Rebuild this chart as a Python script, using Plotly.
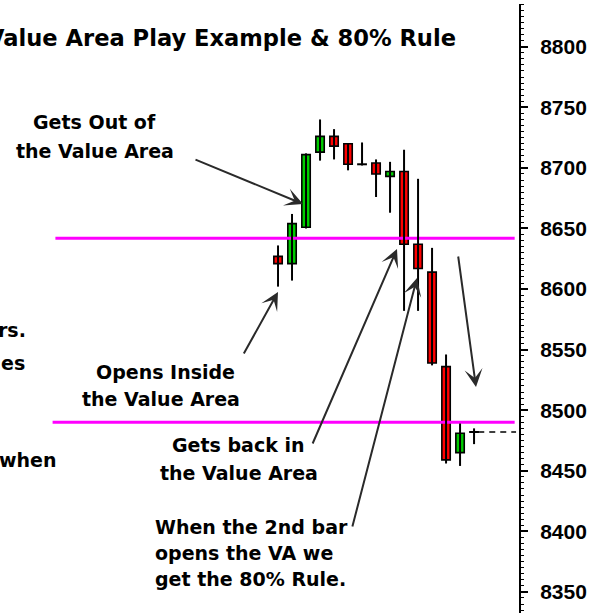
import plotly.graph_objects as go

# ---- data ----
bar_index = list(range(15))
opens  = [8627, 8621, 8651, 8713, 8726, 8720, 8703, 8704, 8693, 8697, 8637, 8614, 8536, 8465, 8482]
highs  = [8636, 8662, 8712, 8740, 8732, 8720, 8721, 8707, 8705, 8715, 8691, 8634, 8546, 8489, 8485]
lows   = [8602, 8607, 8650, 8706, 8707, 8698, 8702, 8676, 8663, 8582, 8582, 8537, 8456, 8454, 8472]
closes = [8621, 8654, 8711, 8726, 8718, 8703, 8703, 8695, 8697, 8637, 8617, 8539, 8459, 8481, 8482]

value_area_high = 8642
value_area_low = 8490
vah_span = [-15.9, 16.9]
val_span = [-16.1, 16.9]

y_tick_vals = [8350, 8400, 8450, 8500, 8550, 8600, 8650, 8700, 8750, 8800]
y_tick_text = [str(v) for v in y_tick_vals]

# ---- geometry ----
W, H = 597, 613
ML, MR, MT, MB = 0, 78, 4, 0
PW, PH = W - ML - MR, H - MT - MB
X_RANGE = [-19.857, 17.21]
Y_RANGE = [8332.6, 8835.3]

def px(x):
    return (x - ML) / PW

def py(y):
    return 1 - (y - MT) / PH

GREEN = "#00CC00"
RED = "#FF0000"
MAGENTA = "#FF00FF"
ARROW = "#2a2a2a"
FONT = dict(family="DejaVu Sans", size=19, color="black", weight="bold")

fig = go.Figure()

# value area lines
fig.add_trace(go.Scatter(x=vah_span, y=[value_area_high] * 2, mode="lines",
                         line=dict(color=MAGENTA, width=3), hoverinfo="skip"))
fig.add_trace(go.Scatter(x=val_span, y=[value_area_low] * 2, mode="lines",
                         line=dict(color=MAGENTA, width=3), hoverinfo="skip"))

# last price dashed line
fig.add_trace(go.Scatter(x=[bar_index[-1] + 0.3, 17.0], y=[closes[-1]] * 2, mode="lines",
                         line=dict(color="black", width=1.6, dash="6px,5px"), hoverinfo="skip"))

# wicks
wx, wy = [], []
for i, hi, lo in zip(bar_index, highs, lows):
    wx += [i, i, None]
    wy += [lo, hi, None]
fig.add_trace(go.Scatter(x=wx, y=wy, mode="lines", line=dict(color="black", width=2),
                         hoverinfo="skip"))

# bodies
body_idx, body_base, body_len, body_col = [], [], [], []
dx, dy = [], []
for i, o, c in zip(bar_index, opens, closes):
    if o == c:
        dx += [i - 0.35, i + 0.35, None]
        dy += [o, o, None]
    else:
        body_idx.append(i)
        body_base.append(min(o, c))
        body_len.append(abs(c - o))
        body_col.append(GREEN if c > o else RED)
fig.add_trace(go.Bar(x=body_idx, y=body_len, base=body_base, width=0.6,
                     marker=dict(color=body_col, line=dict(color="black", width=1.6)),
                     hoverinfo="skip"))
fig.add_trace(go.Scatter(x=dx, y=dy, mode="lines", line=dict(color="black", width=2),
                         hoverinfo="skip"))

annotations = []

def text(t, x, y, xanchor="center", size=19):
    f = dict(FONT)
    f["size"] = size
    annotations.append(dict(text=t, xref="paper", yref="paper", x=px(x), y=py(y),
                            xanchor=xanchor, yanchor="middle", showarrow=False, font=f))

def arrow(tail, tip):
    annotations.append(dict(text="", xref="paper", yref="paper", x=px(tip[0]), y=py(tip[1]),
                            ax=tail[0] - tip[0], ay=tail[1] - tip[1], axref="pixel", ayref="pixel",
                            showarrow=True, arrowhead=3, arrowsize=1.5, arrowwidth=2,
                            arrowcolor=ARROW, standoff=0, startstandoff=0))

text("Value Area Play Example & 80% Rule", 458, 38, xanchor="right", size=22.6)
text("Gets Out of", 94, 122)
text("the Value Area", 95, 151)
text("rs.", 28, 330, xanchor="right")
text("es", 27, 363, xanchor="right")
text("when", 59, 460, xanchor="right")
text("Opens Inside", 165, 372)
text("the Value Area", 161, 399)
text("Gets back in", 238, 445)
text("the Value Area", 239, 473)
text("When the 2nd bar", 153, 527, xanchor="left")
text("opens the VA we", 153, 553, xanchor="left")
text("get the 80% Rule.", 153, 579, xanchor="left")

arrow((194, 159), (303, 204))
arrow((243, 355), (278, 292))
arrow((312, 445), (397, 249))
arrow((352, 528), (417, 278))
arrow((458, 255), (476, 387))

fig.update_layout(
    width=W, height=H,
    margin=dict(l=ML, r=MR, t=MT, b=MB, pad=0),
    paper_bgcolor="white", plot_bgcolor="white",
    showlegend=False,
    annotations=annotations,
    xaxis=dict(visible=False, range=X_RANGE, fixedrange=True),
    yaxis=dict(
        side="right", range=Y_RANGE, fixedrange=True,
        showline=True, linecolor="black", linewidth=2, mirror=False,
        showgrid=False, zeroline=False,
        ticks="outside", ticklen=7, tickwidth=2, tickcolor="black",
        tickvals=y_tick_vals, ticktext=y_tick_text,
        tickfont=dict(family="Liberation Sans", size=21, color="black", weight="bold"),
        ticklabelstandoff=8,
        minor=dict(ticks="outside", ticklen=3, dtick=5, tick0=8350, tickwidth=1,
                   tickcolor="black", showgrid=False),
    ),
)

fig.write_html(
    "out.html",
    config={"displayModeBar": False},
    post_script="document.body.style.margin='0';document.body.style.overflow='hidden';",
)
